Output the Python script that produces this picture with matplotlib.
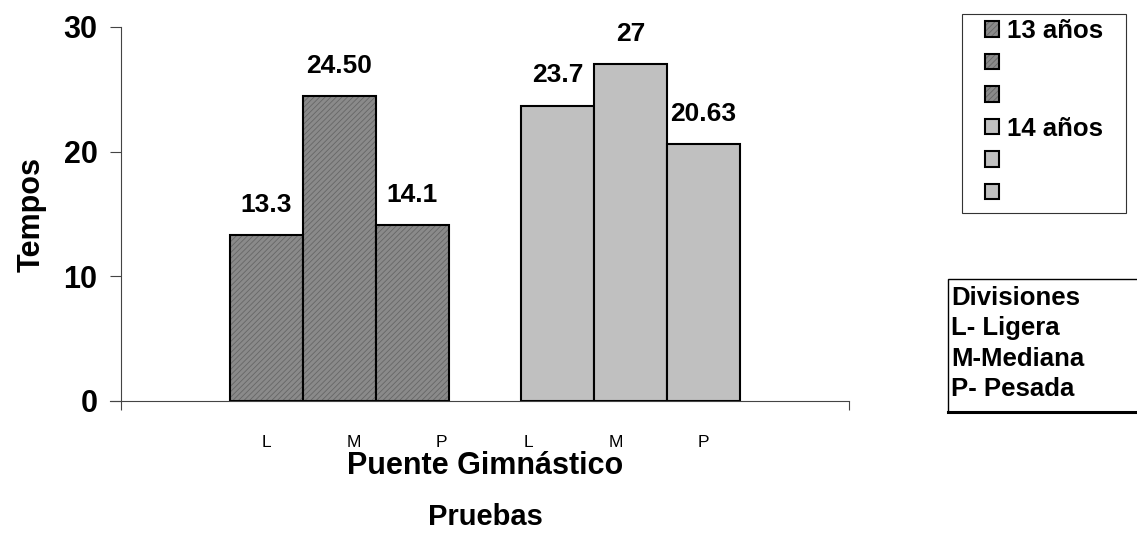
import numpy as np
import matplotlib
matplotlib.use("Agg")
import matplotlib.pyplot as plt
from matplotlib.patches import Rectangle
from matplotlib.lines import Line2D

plt.rcParams['font.family'] = ['Liberation Sans', 'DejaVu Sans']
plt.rcParams['hatch.linewidth'] = 0.6

# tiempos por division y edad
divisiones = ["L", "M", "P"]
edades = ["13 años", "14 años"]
tiempos_13 = [13.3, 24.50, 14.1]
tiempos_14 = [23.7, 27, 20.63]
etiquetas_13 = ["13.3", "24.50", "14.1"]
etiquetas_14 = ["23.7", "27", "20.63"]

W, H = 1137, 533
fig = plt.figure(figsize=(W / 100, H / 100), dpi=100)
ax = fig.add_axes([121 / W, 1 - 401 / H, 728 / W, 374 / H])

x13 = np.arange(len(tiempos_13)) + 2
x14 = np.arange(len(tiempos_14)) + 6
bars13 = ax.bar(x13, tiempos_13, width=1.0, color="#8a8a8a", edgecolor="black",
                linewidth=1.5, hatch="//////")
for b in bars13:
    b._hatch_color = (0.4, 0.4, 0.4, 1.0)
bars14 = ax.bar(x14, tiempos_14, width=1.0, color="#c0c0c0", edgecolor="black",
                linewidth=1.5)

for b, t in zip(list(bars13) + list(bars14), etiquetas_13 + etiquetas_14):
    ax.annotate(t, (b.get_x() + b.get_width() / 2, b.get_height()),
                xytext=(0, 13), textcoords="offset points",
                ha="center", va="bottom", fontsize=19, fontweight="bold")

ax.set_xlim(0, 10)
ax.set_ylim(0, 30)
ax.set_yticks([0, 10, 20, 30])
ax.set_xticks([0, 10])
ax.set_xticklabels([])
ax.tick_params(axis="y", direction="out", length=8, width=0.8, color="#444444",
               labelsize=22, pad=9)
ax.tick_params(axis="x", direction="out", length=6.5, width=0.8, color="#444444")
for lbl in ax.get_yticklabels():
    lbl.set_fontweight("bold")
for s in ["top", "right"]:
    ax.spines[s].set_visible(False)
for s in ["left", "bottom"]:
    ax.spines[s].set_color("#444444")
    ax.spines[s].set_linewidth(0.8)
ax.spines["bottom"].set_bounds(-0.15, 10)
ax.spines["bottom"].set_zorder(3)

# etiquetas de division bajo el eje
pos_div = np.linspace(2.0, 8.0, 6)
for px, d in zip(pos_div, divisiones * 2):
    ax.text(px, -0.112, d, transform=ax.get_xaxis_transform(),
            ha="center", va="center", fontsize=12.5)

ax.text(0.5, -0.175, "Puente Gimnástico", transform=ax.transAxes,
        ha="center", va="center", fontsize=22, fontweight="bold")
ax.text(0.5, -0.31, "Pruebas", transform=ax.transAxes,
        ha="center", va="center", fontsize=21, fontweight="bold")
ax.set_ylabel("Tempos", fontsize=22, fontweight="bold", labelpad=12)

# leyenda de edades (marco dibujado aparte)
fig.patches.append(Rectangle((962 / W, 1 - 213 / H), 164 / W, 199 / H,
                             transform=fig.transFigure, facecolor="white",
                             edgecolor="#333333", linewidth=0.8, zorder=0))
handles = [bars13[0], bars13[1], bars13[2], bars14[0], bars14[1], bars14[2]]
labels = [edades[0], " ", " ", edades[1], " ", " "]
leg = fig.legend(handles, labels, loc="upper left",
                 bbox_to_anchor=(975 / W, 1 - 9 / H),
                 prop={"size": 18.5, "weight": "bold"},
                 handlelength=0.55, handleheight=0.55, handletextpad=0.3,
                 labelspacing=0.33, borderpad=0.4, borderaxespad=0,
                 frameon=False)

# recuadro de divisiones
fig.patches.append(Rectangle((948 / W, 1 - 412 / H), 200 / W, 133 / H,
                             transform=fig.transFigure, facecolor="white",
                             edgecolor="black", linewidth=1.0))
fig.lines.append(Line2D([948 / W, 1], [1 - 412 / H, 1 - 412 / H],
                        transform=fig.transFigure, color="black", linewidth=2.2))
texto_div = ["Divisiones", "L- Ligera", "M-Mediana", "P- Pesada"]
for i, t in enumerate(texto_div):
    fig.text(951 / W, 1 - (298 + 30.5 * i) / H, t, ha="left", va="center",
             fontsize=18.5, fontweight="bold")

fig.savefig("out.png", dpi=100)
